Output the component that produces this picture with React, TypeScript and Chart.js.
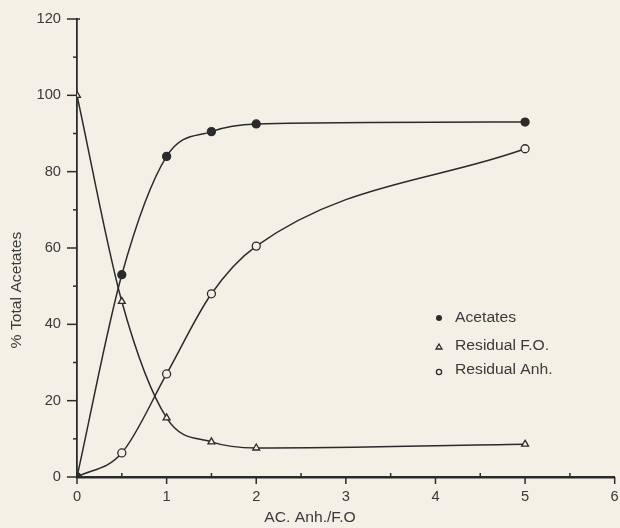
import React, { useEffect, useRef } from "react";
import { Chart, registerables } from "chart.js";

Chart.register(...registerables);

const xValues = [0, 0.5, 1, 1.5, 2, 5];
const acetates = [0, 53, 84, 90.5, 92.5, 93];
const residualFO = [100, 46, 15.5, 9.2, 7.6, 8.6];
const residualAnh = [0, 6.3, 27, 48, 60.5, 86];
const seriesNames = ["Acetates", "Residual F.O.", "Residual Anh."];
const yTickLabels = [0, 20, 40, 60, 80, 100, 120];
const xTickLabels = [0, 1, 2, 3, 4, 5, 6];
const xAxisTitle = "AC. Anh./F.O";
const yAxisTitle = "% Total Acetates";

const INK = "#2b2b2b";
const TEXT = "#3a3a3a";
const BG = "#f4f0e6";
const FAMILY = "'Liberation Sans', Arial, sans-serif";

const toPts = (ys: number[]) => xValues.map((x, i) => ({ x, y: ys[i] }));

function drawText(
  ctx: CanvasRenderingContext2D,
  text: string,
  x: number,
  y: number,
  size: number,
  sx: number,
  align: CanvasTextAlign,
  rot = 0
) {
  ctx.save();
  ctx.translate(x, y);
  if (rot) ctx.rotate(rot);
  ctx.scale(sx, 1);
  ctx.font = `${size}px ${FAMILY}`;
  ctx.textAlign = align;
  ctx.textBaseline = "middle";
  ctx.fillStyle = TEXT;
  ctx.fillText(text, 0, 0);
  ctx.restore();
}

const decorPlugin = {
  id: "decor",
  afterDraw(chart: any) {
    const ctx = chart.ctx;
    const xs = chart.scales.x;
    const ys = chart.scales.y;
    ctx.save();
    ctx.strokeStyle = INK;
    ctx.lineWidth = 1.5;
    // y ticks
    const x0 = xs.getPixelForValue(0);
    for (let v = 0; v <= 120; v += 10) {
      const py = ys.getPixelForValue(v);
      const major = v % 20 === 0;
      ctx.beginPath();
      ctx.moveTo(x0 - (major ? 10 : 4), py);
      ctx.lineTo(x0 + (v === 120 ? 3 : 0), py);
      ctx.stroke();
    }
    yTickLabels.forEach((v) => {
      drawText(ctx, String(v), x0 - 16, ys.getPixelForValue(v), 14, 1.05, "right");
    });
    // x ticks
    const y0 = ys.getPixelForValue(0);
    for (let v = 0; v <= 6; v += 0.5) {
      const px = xs.getPixelForValue(v);
      const major = Number.isInteger(v);
      ctx.beginPath();
      if (major) {
        ctx.moveTo(px, y0);
        ctx.lineTo(px, y0 + 7);
      } else {
        ctx.moveTo(px, y0);
        ctx.lineTo(px, y0 - 4);
      }
      ctx.stroke();
    }
    xTickLabels.forEach((v) => {
      drawText(ctx, String(v), xs.getPixelForValue(v), y0 + 20, 14, 1.05, "center");
    });
    // axis titles
    drawText(ctx, xAxisTitle, 310, 518, 14, 1.12, "center");
    drawText(ctx, yAxisTitle, 17, 290, 14, 1.12, "center", -Math.PI / 2);
    // legend
    const lx = 439;
    const rows = [318, 346, 370];
    rows.forEach((ly, i) => {
      ctx.fillStyle = INK;
      ctx.strokeStyle = INK;
      ctx.lineWidth = 1.3;
      ctx.beginPath();
      if (i === 0) {
        ctx.arc(lx, ly, 3, 0, Math.PI * 2);
        ctx.fill();
      } else if (i === 1) {
        ctx.moveTo(lx, ly - 2);
        ctx.lineTo(lx + 3, ly + 3);
        ctx.lineTo(lx - 3, ly + 3);
        ctx.closePath();
        ctx.stroke();
      } else {
        ctx.arc(lx, ly + 2, 2.6, 0, Math.PI * 2);
        ctx.stroke();
      }
      drawText(ctx, seriesNames[i], lx + 16, ly, 14, 1.12, "left");
    });
    ctx.restore();
  },
};

const bgPlugin = {
  id: "bg",
  beforeDraw(chart: any) {
    const ctx = chart.ctx;
    ctx.save();
    ctx.fillStyle = BG;
    ctx.fillRect(0, 0, chart.width, chart.height);
    ctx.restore();
  },
};

export default function App() {
  const ref = useRef<HTMLCanvasElement>(null);
  useEffect(() => {
    if (!ref.current) return;
    const common = {
      borderColor: INK,
      backgroundColor: INK,
      borderWidth: 1.5,
      pointRadius: 4,
      pointBorderWidth: 1.3,
      cubicInterpolationMode: "monotone" as const,
    };
    const chart = new Chart(ref.current, {
      type: "line",
      data: {
        datasets: [
          { ...common, label: seriesNames[0], data: toPts(acetates), pointStyle: "circle", pointBackgroundColor: INK },
          { ...common, label: seriesNames[1], data: toPts(residualFO), pointStyle: "triangle", pointRadius: 4, pointBackgroundColor: BG },
          { ...common, label: seriesNames[2], data: toPts(residualAnh), pointStyle: "circle", pointBackgroundColor: BG },
        ],
      },
      options: {
        animation: false,
        responsive: false,
        maintainAspectRatio: false,
        layout: { padding: { left: 77, right: 2, top: 19, bottom: 51 } },
        plugins: { legend: { display: false }, tooltip: { enabled: false } },
        scales: {
          x: {
            type: "linear",
            min: 0,
            max: 6,
            grid: { display: false, drawTicks: false },
            border: { display: true, color: INK, width: 2.5 },
            ticks: { display: false },
          },
          y: {
            min: 0,
            max: 120,
            grid: { display: false, drawTicks: false },
            border: { display: true, color: INK, width: 1.8 },
            ticks: { display: false },
          },
        },
      },
      plugins: [bgPlugin, decorPlugin],
    });
    return () => chart.destroy();
  }, []);
  return (
    <div style={{ position: "absolute", left: 0, top: 0, width: 620, height: 528, background: BG }}>
      <canvas ref={ref} width={620} height={528} style={{ display: "block" }} />
    </div>
  );
}
